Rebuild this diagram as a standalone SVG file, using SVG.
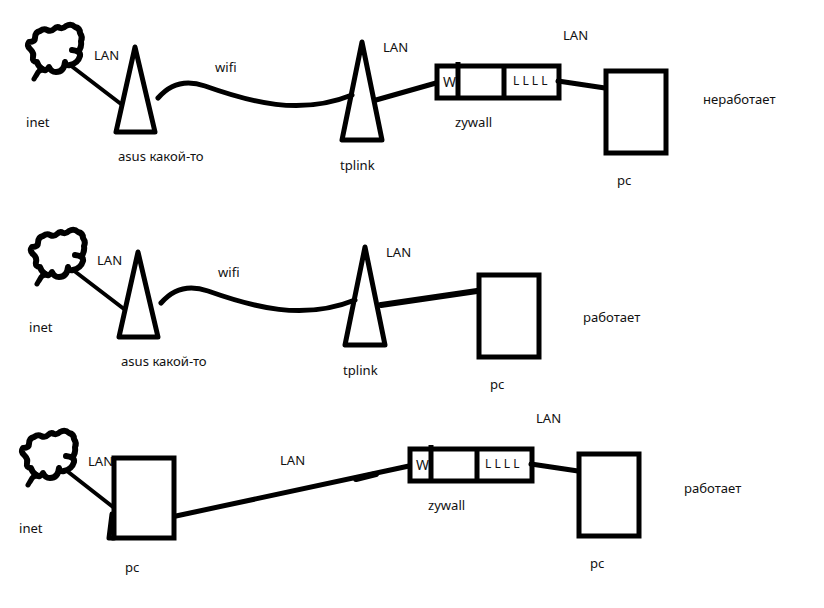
<svg xmlns="http://www.w3.org/2000/svg" width="824" height="608" viewBox="0 0 824 608">
<style>
.s{fill:none;stroke:#000;stroke-width:5;stroke-linejoin:round;stroke-linecap:round}
.t{fill:none;stroke:#000;stroke-width:6;stroke-linejoin:round;stroke-linecap:round}
.b{fill:none;stroke:#000;stroke-width:5;stroke-linejoin:miter;stroke-linecap:butt}
.c{fill:none;stroke:#000;stroke-width:4;stroke-linejoin:round;stroke-linecap:round}
text{font-family:"Noto Sans","DejaVu Sans",sans-serif;font-size:13.1px;fill:#111}
text.w{font-size:14px}
text.l{font-size:12px}
</style>
<defs>
<g id="cloud">
<path class="t" d="M72 50Q81 51 80 56Q78 63 70 65Q66 66 65 62Q64 72 56 72Q51 72 49 67Q46 72 42 69Q38 66 37 62Q32 62 33 57Q34 53 31 50Q26 46 29 42Q35 42 35 38Q35 32 40 31Q44 28 47 30Q51 32 54 29Q57 26 60 28Q63 29 66 26Q71 23 75 27Q80 28 80 33Q83 37 81 41Q82 47 78 52"/>
<path class="s" d="M43 69L38 72L34 79M39 71L36 76"/>
</g>
<path id="tower" class="s" d="M0 0L-19 85H20Z"/>
<g id="router">
<rect class="b" x="0" y="0" width="122" height="32"/>
<path class="b" d="M21 -4V32M67 0V32"/>
</g>
</defs>
<g id="connectors">
<path class="c" d="M70 65L121 104"/>
<path class="s" d="M158 98C170 84 185 79 205 86C250 102 300 116 352 95"/>
<path class="s" d="M376 100L436 83"/>
<path class="s" d="M558 81L605 88"/>
<path class="c" d="M73 270L124 309"/>
<path class="s" d="M161 303C173 289 188 284 208 291C253 307 303 321 355 300"/>
<path class="t" d="M381 305L477 291"/>
<path class="c" d="M67 471L113 507"/>
<path class="s" d="M176 516L409 466"/>
<path class="t" d="M356 479L376 474"/>
<path class="s" d="M531 464L578 471"/>
</g>
<g id="row1">
<g id="cloud1"><use href="#cloud"/><text x="26" y="127">inet</text></g>
<g id="asus1"><use href="#tower" x="135" y="47"/><text x="118" y="161">asus какой-то</text></g>
<g id="tplink1"><path class="s" d="M362 42L342 140H382Z"/><text x="340" y="170">tplink</text></g>
<g id="zywall1"><use href="#router" x="437" y="66"/><text class="w" x="443" y="87">W</text><text class="l" x="513" y="85">L L L L</text><text x="455" y="127">zywall</text></g>
<g id="pc1"><rect class="b" x="606" y="71" width="60" height="82"/><text x="617" y="185">pc</text></g>
<text x="94" y="60">LAN</text>
<text x="215" y="72">wifi</text>
<text x="383" y="52">LAN</text>
<text x="563" y="40">LAN</text>
<text x="703" y="104">неработает</text>
</g>
<g id="row2">
<g id="cloud2"><use href="#cloud" x="3" y="205"/><text x="29" y="332">inet</text></g>
<g id="asus2"><use href="#tower" x="138" y="252"/><text x="121" y="366">asus какой-то</text></g>
<g id="tplink2"><path class="s" d="M365 247L345 345H385Z"/><text x="343" y="375">tplink</text></g>
<g id="pc2"><rect class="b" x="479" y="275" width="60" height="82"/><text x="490" y="389">pc</text></g>
<text x="97" y="265">LAN</text>
<text x="218" y="277">wifi</text>
<text x="386" y="257">LAN</text>
<text x="583" y="322">работает</text>
</g>
<g id="row3">
<g id="cloud3"><use href="#cloud" x="-6" y="406"/><text x="19" y="533">inet</text></g>
<text x="88" y="466">LAN</text>
<g id="pc3"><rect class="b" x="114" y="458" width="60" height="80"/><path class="s" d="M112 514L109 538H114"/><text x="125" y="572">pc</text></g>
<g id="zywall2"><use href="#router" x="410" y="449"/><text class="w" x="416" y="470">W</text><text class="l" x="485" y="468">L L L L</text><text x="428" y="510">zywall</text></g>
<g id="pc4"><rect class="b" x="579" y="454" width="60" height="82"/><text x="590" y="568">pc</text></g>
<text x="280" y="465">LAN</text>
<text x="536" y="423">LAN</text>
<text x="684" y="493">работает</text>
</g>
</svg>
